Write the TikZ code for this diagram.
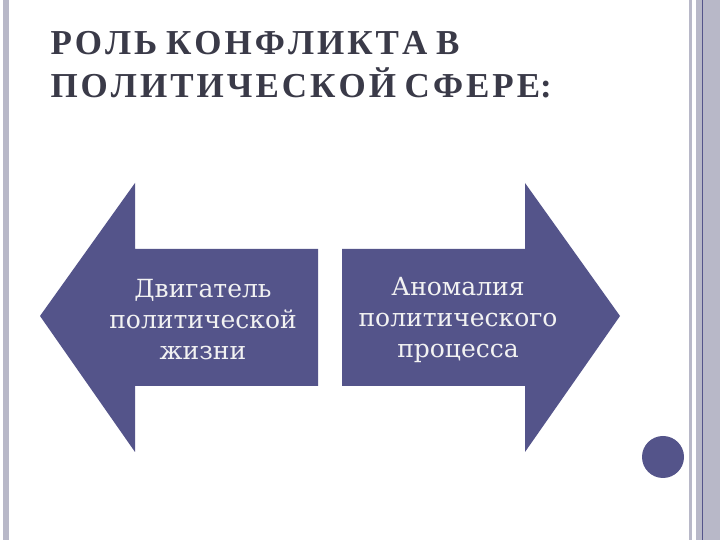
\documentclass[tikz,border=0pt]{standalone}
\usepackage{fontspec}
\setmainfont{Liberation Serif}
\newfontfamily\lblfont{DejaVu Serif}
\begin{document}
\begin{tikzpicture}[x=1pt,y=1pt,
  arr/.style={fill=arrowc,draw=none},
  lbl/.style={text=lblc,align=center,font=\lblfont\fontsize{25}{31}\selectfont},
  ttl/.style={anchor=base west,text=titlec,font=\fontsize{35}{43}\selectfont\bfseries}]
\definecolor{arrowc}{HTML}{54548A}
\definecolor{titlec}{HTML}{3A3A48}
\definecolor{barc}{HTML}{B8B8C8}
\definecolor{lblc}{HTML}{F2F2F2}
\useasboundingbox (0,0) rectangle (720,540);
\fill[white] (0,0) rectangle (720,540);
\fill[barc] (3,0) rectangle (9,540);
\fill[barc] (689,0) rectangle (692,540);
\fill[barc] (696,0) rectangle (720,540);
\draw[arrowc,line width=0.8] (702,0) -- (702,540);
\fill[arrowc] (663,83) circle (21);
\node[ttl] (t1) at (47,485) {Р\kern3pt О\kern3pt Л\kern3pt Ь К\kern3pt О\kern3pt Н\kern3pt Ф\kern3pt Л\kern3pt И\kern3pt К\kern3pt Т\kern3pt А В};
\node[ttl] (t2) at (47,442) {П\kern3pt О\kern3pt Л\kern3pt И\kern3pt Т\kern3pt И\kern3pt Ч\kern3pt Е\kern3pt С\kern3pt К\kern3pt О\kern3pt Й С\kern3pt Ф\kern3pt Е\kern3pt Р\kern3pt Е:};
\path[arr] (40,224) -- (135,357) -- (135,291) -- (318,291) -- (318,154) -- (135,154) -- (135,88) -- cycle;
\path[arr] (620,224) -- (525,357) -- (525,291) -- (342,291) -- (342,154) -- (525,154) -- (525,88) -- cycle;
\node[lbl] (l) at (203,220) {Двигатель\\политической\\жизни};
\node[lbl] (r) at (458,220) {Аномалия\\политического\\процесса};
\end{tikzpicture}
\end{document}
